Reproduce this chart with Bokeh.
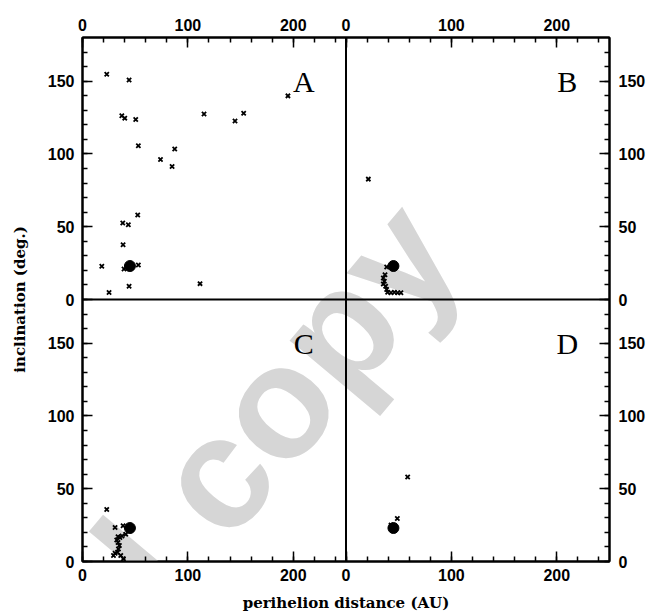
from bokeh.plotting import figure
from bokeh.models import Range1d, LinearAxis, FixedTicker, Span, Label, CustomJSTickFormatter
from bokeh.embed import file_html
from bokeh.resources import INLINE

# axis extents of each panel
Q_MAX = 250   # perihelion distance (AU)
I_MAX = 180   # inclination (deg.)

x_major = [0, 100, 200]
x_minor = list(range(0, 250, 20))
y_major = [0, 50, 100, 150]
y_minor = list(range(0, 180, 10))

panel_names = ["A", "B", "C", "D"]

# Panel A
a_q = [23, 44.2, 37.3, 40.1, 50.5, 53, 74, 85, 87.5, 115.3, 144.7, 152.9, 194.9,
       38.2, 43.5, 52.4, 38.5, 18.3, 39.4, 53, 44.2, 25.2, 111.5]
a_i = [154.7, 150.8, 126.2, 124.6, 123.7, 105.7, 96.2, 91.4, 103.4, 127.4, 122.6, 128, 139.9,
       52.6, 51.3, 58.1, 37.6, 22.8, 21, 23.7, 9.1, 4.8, 10.9]
# Panel B
b_q = [21.2, 38.6, 37, 35.4, 36.4, 35.4, 37.6, 38.6, 39.5, 42.7, 45.9, 49, 52.1]
b_i = [82.7, 22.3, 17, 14.8, 12.5, 10.7, 9.1, 6.8, 5, 4.6, 5, 4.6, 4.6]
# Panel C
c_q = [23, 30.9, 38.5, 41, 33.7, 32.5, 33.7, 35.5, 37.5, 34.1, 30.9, 33.2, 36.3, 38.8, 29.4, 35]
c_i = [35.8, 23.4, 24.5, 18.8, 17, 14.7, 13.1, 16.5, 17.5, 8.6, 5.7, 6.3, 4.1, 1.8, 4.1, 11]
# Panel D
d_q = [58.5, 48.7, 42.7]
d_i = [58.1, 29.5, 25]
# reference object (large dot), same in every panel
ref_q = [45]
ref_i = [23]

W, H = 652, 614
p = figure(width=W, height=H, output_backend="svg", toolbar_location=None,
           x_range=Range1d(0, 2 * Q_MAX), y_range=Range1d(0, 2 * I_MAX),
           x_axis_location=None, y_axis_location=None,
           min_border_left=82, min_border_right=43, min_border_top=37, min_border_bottom=50)
p.extra_x_ranges = {"L": Range1d(0, 2 * Q_MAX), "R": Range1d(-Q_MAX, Q_MAX)}
p.extra_y_ranges = {"T": Range1d(-I_MAX, I_MAX), "B": Range1d(0, 2 * I_MAX)}
p.xgrid.visible = False
p.ygrid.visible = False
p.outline_line_color = "black"
p.outline_line_width = 2
p.background_fill_color = "white"
p.border_fill_color = "white"

# watermark
p.add_layout(Label(x=325, y=231.5, text="Author's personal copy", text_align="right",
                   text_baseline="alphabetic", angle=50, angle_units="deg",
                   text_color="#d6d6d6", text_font="Liberation Sans", text_font_style="bold",
                   text_font_size="160px", level="underlay"))

xt = FixedTicker(ticks=x_major + [v + Q_MAX for v in x_major],
                 minor_ticks=x_minor + [v + Q_MAX for v in x_minor])
yt = FixedTicker(ticks=y_major + [v + I_MAX for v in y_major],
                 minor_ticks=y_minor + [v + I_MAX for v in y_minor])
xf = CustomJSTickFormatter(args=dict(span=Q_MAX), code="return String(tick >= span ? tick - span : tick);")
yf = CustomJSTickFormatter(args=dict(span=I_MAX), code="return String(tick >= span ? tick - span : tick);")


def style(ax):
    ax.major_tick_in = 10
    ax.major_tick_out = 0
    ax.minor_tick_in = 5
    ax.minor_tick_out = 0
    ax.axis_line_width = 2
    ax.major_tick_line_width = 1.5
    ax.minor_tick_line_width = 1.5
    ax.major_label_text_font = "Liberation Sans"
    ax.major_label_text_font_style = "bold"
    ax.major_label_text_font_size = "16px"
    ax.major_label_text_color = "black"
    ax.major_label_standoff = 7
    ax.axis_label_text_font = "DejaVu Serif"
    ax.axis_label_text_font_style = "bold"
    ax.axis_label_text_font_size = "15px"
    ax.axis_label_text_color = "black"


for loc in ["above", "below"]:
    ax = LinearAxis(ticker=xt, formatter=xf)
    style(ax)
    if loc == "below":
        ax.axis_label = "perihelion distance (AU)"
        ax.axis_label_standoff = 10
    p.add_layout(ax, loc)
for loc in ["left", "right"]:
    ax = LinearAxis(ticker=yt, formatter=yf)
    style(ax)
    if loc == "left":
        ax.axis_label = "inclination (deg.)"
        ax.axis_label_standoff = 16
        ax.major_label_standoff = 8
    else:
        ax.major_label_standoff = 9
    p.add_layout(ax, loc)

p.add_layout(Span(location=Q_MAX, dimension="height", line_color="black", line_width=2))
p.add_layout(Span(location=I_MAX, dimension="width", line_color="black", line_width=2))

panels = [
    (a_q, a_i, "L", "T"),
    (b_q, b_i, "R", "T"),
    (c_q, c_i, "L", "B"),
    (d_q, d_i, "R", "B"),
]
for name, (qs, incs, xr, yr) in zip(panel_names, panels):
    p.scatter(qs, incs, marker="x", size=6, line_width=1.8, line_color="black",
              x_range_name=xr, y_range_name=yr)
    p.scatter(ref_q, ref_i, marker="circle", size=11, fill_color="black", line_color="black",
              x_range_name=xr, y_range_name=yr)
    p.add_layout(Label(x=210, y=150, text=name, x_range_name=xr, y_range_name=yr,
                       text_align="center", text_baseline="alphabetic",
                       text_font="Liberation Serif", text_font_size="30px", text_color="black"))

open("out.html", "w").write(file_html(p, INLINE))
